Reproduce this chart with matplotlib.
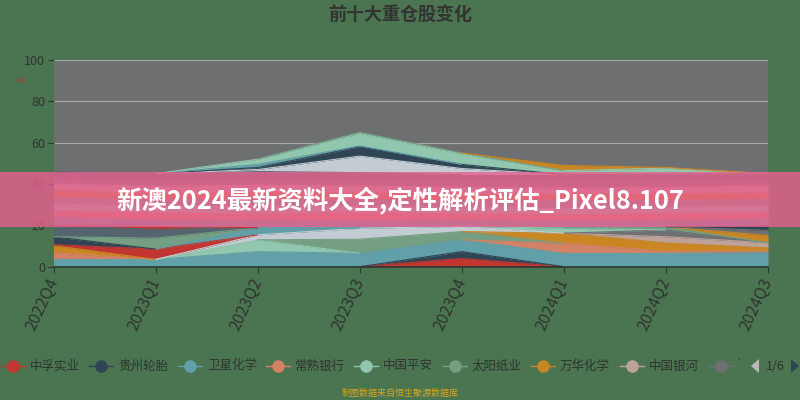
import matplotlib
matplotlib.use('Agg')
import matplotlib.pyplot as plt
import numpy as np
from matplotlib.patches import Rectangle, Polygon

plt.rcParams['font.family'] = ['Noto Sans CJK SC', 'DejaVu Sans']

quarters = ['2022Q4', '2023Q1', '2023Q2', '2023Q3', '2023Q4', '2024Q1', '2024Q2', '2024Q3']
y_ticks = [0, 20, 40, 60, 80, 100]

# named series (legend page 1)
zhongfu = [0, 0, 0, 0, 4.0, 0, 0, 0]          # 中孚实业
guizhou = [0, 0, 0, 0, 3.3, 0, 0, 0]          # 贵州轮胎
weixing = [3.5, 3.5, 7.3, 6.5, 5.7, 6.5, 6.5, 6.8]  # 卫星化学
changshu = [3.3, 0, 0, 0, 0, 4.8, 1.0, 0.8]   # 常熟银行
pingan = [0, 0, 5.7, 0, 0, 0, 0, 0]           # 中国平安
taiyang = [0, 0, 0, 6.8, 4.0, 0, 0, 0]        # 太阳纸业
wanhua = [3.4, 0, 0, 0, 0, 4.9, 4.0, 1.5]     # 万华化学
yinhe = [0, 0, 0, 0, 0, 0, 3.0, 2.5]          # 中国银河
ninth = [0, 0, 0, 0, 0, 0, 3.3, 0]

legend_names = ['中孚实业', '贵州轮胎', '卫星化学', '常熟银行', '中国平安',
                '太阳纸业', '万华化学', '中国银河', '']

# remaining holdings (legend pages 2-6), in stacking order
other_holdings = [
    [0, 0, 0, 0, 0, 0, 0, 0],
    [0, 0, 2.4, 5.3, 2.5, 0, 0, 0],
    [0.5, 5.0, 0, 0, 0, 0, 0, 0],
    [3.8, 0, 0, 0, 0, 0, 0, 0],
    [0, 0, 3.5, 0, 0, 0, 0, 0],
    [0, 0, 0, 0, 0, 0, 0, 0],
    [0, 0, 0, 0, 0, 2.4, 0, 0],
    [0, 5.3, 0, 0, 0, 0, 1.5, 0],
    [0, 0, 0, 0, 0, 0, 0, 3.5],
    [0, 0, 0, 0, 0, 0, 0, 0],
    [0, 0, 0, 0, 0, 0, 0, 2.5],
    [5.4, 4.3, 0, 0, 0, 0, 0, 0],
    [0, 0, 0, 0, 0, 0, 0, 0],
    [0, 1.4, 0, 0, 0, 0, 0, 0],
    [0, 0, 0, 0, 0, 0, 0, 2.0],
    [4, 3, 3.5, 3.5, 3, 3.5, 3, 3.5],
    [3, 3.5, 3, 4, 3, 3, 3.5, 3],
    [3.5, 3, 4, 3, 3.5, 3, 3, 3.5],
    [3, 3.5, 3, 3.5, 3, 4, 3, 3],
    [3.5, 3, 3.5, 3, 3, 3, 3.5, 3],
    [3, 3.5, 3.5, 3.5, 3.5, 3, 3, 3.5],
    [3, 3, 3, 3, 3, 3.5, 3.5, 3],
    [3.1, 3.0, 3.6, 3.4, 3.0, 2.9, 2.9, 2.9],
    [0, 0, 1, 8, 3, 0, 0, 0],
    [0, 0, 0, 0, 0, 0, 0, 0],
    [0, 0, 1, 4.5, 2, 0, 0, 0],
    [0, 0, 1.5, 0.5, 0, 0, 0, 0],
    [0, 0, 0, 0, 0, 0, 0, 0],
    [0, 0, 2.5, 6, 5, 2, 3, 0],
    [0, 0, 0, 0.5, 0.5, 0, 0, 0],
    [0, 0, 0, 0, 0, 2.5, 0.3, 0],
]

palette = ['#c23531', '#2f4554', '#61a0a8', '#d48265', '#91c7ae', '#749f83',
           '#ca8622', '#bda29a', '#6e7074', '#546570', '#c4ccd3']

all_series = [zhongfu, guizhou, weixing, changshu, pingan, taiyang, wanhua, yinhe, ninth] + other_holdings

fig = plt.figure(figsize=(8, 4), dpi=100)
fig.patch.set_facecolor('#4b7450')
ax = fig.add_axes([53.5 / 800, 1 - 266.7 / 400, (768 - 53.5) / 800, (266.7 - 60) / 400])
ax.set_facecolor('#6e6f71')

x = np.arange(len(quarters))
base = np.zeros(len(quarters))
for i, vals in enumerate(all_series):
    c = palette[i % len(palette)]
    v = np.array(vals, dtype=float)
    top = base + v
    ax.fill_between(x, base, top, color=c, lw=0, zorder=2)
    for j in range(len(x) - 1):
        if v[j] > 0 or v[j + 1] > 0:
            ax.plot(x[j:j + 2], top[j:j + 2], color=c, lw=0.8, zorder=3,
                    solid_capstyle='butt')
    base = top

ax.set_xlim(0, len(quarters) - 1)
ax.set_ylim(0, 100)
ax.set_yticks(y_ticks)
ax.set_xticks(x)
ax.set_xticklabels(quarters, rotation=65, ha='right', va='center', rotation_mode='anchor')
ax.yaxis.grid(True, color='#a9a9a9', lw=0.8, zorder=1)
ax.set_axisbelow(True)
for s in ['top', 'right', 'left']:
    ax.spines[s].set_visible(False)
ax.spines['bottom'].set_color('#2a3a30')
ax.spines['bottom'].set_linewidth(1.2)
ax.spines['bottom'].set_zorder(5)
ax.tick_params(axis='y', length=4, color='#2a3a30', labelcolor='#2e3530', labelsize=9, pad=2)
ax.tick_params(axis='x', length=4, color='#2a3a30', labelcolor='#2e3530', labelsize=11.5, pad=5)

ov = fig.add_axes([0, 0, 1, 1])
ov.set_xlim(0, 800)
ov.set_ylim(400, 0)
ov.axis('off')
ov.patch.set_alpha(0)

ov.text(400, 14, '前十大重仓股变化', fontsize=13, fontweight='bold', color='#333333',
        ha='center', va='center')
ov.text(22, 80, '%', fontsize=6, color='#c23531', rotation=45, ha='center', va='center')

ov.add_patch(Rectangle((0, 172), 800, 55, color='#e8608e', alpha=0.8, lw=0))
ov.text(400, 200, '新澳2024最新资料大全,定性解析评估_Pixel8.107', color='white', fontsize=18.3,
        fontweight='bold', ha='center', va='center')

leg_x = [13, 101, 190, 278, 366, 455, 543, 632, 721]
leg_y = 366
for i, (mx, name) in enumerate(zip(leg_x, legend_names)):
    c = palette[i % len(palette)]
    ov.plot([mx - 12, mx + 12], [leg_y, leg_y], color=c, lw=1)
    ov.plot(mx, leg_y, 'o', ms=8, color=c)
    if name:
        ov.text(mx + 17, leg_y, name, fontsize=9, color='#2e3530', ha='left', va='center')
ov.text(738, leg_y - 2, '\u2019', fontsize=8, color='#2e3530', ha='left', va='center')
ov.add_patch(Polygon([[759, 359], [759, 373], [751, 366]], closed=True, color='#b8b8b8', lw=0))
ov.text(775, leg_y, '1/6', fontsize=9, color='#2e3530', ha='center', va='center')
ov.add_patch(Polygon([[791, 359], [791, 373], [799, 366]], closed=True, color='#2f4554', lw=0))

ov.text(400, 393, '制图数据来自恒生聚源数据库', fontsize=6.5, color='#d9a520', ha='center', va='center')

fig.savefig('out.png', dpi=100, facecolor=fig.get_facecolor())
